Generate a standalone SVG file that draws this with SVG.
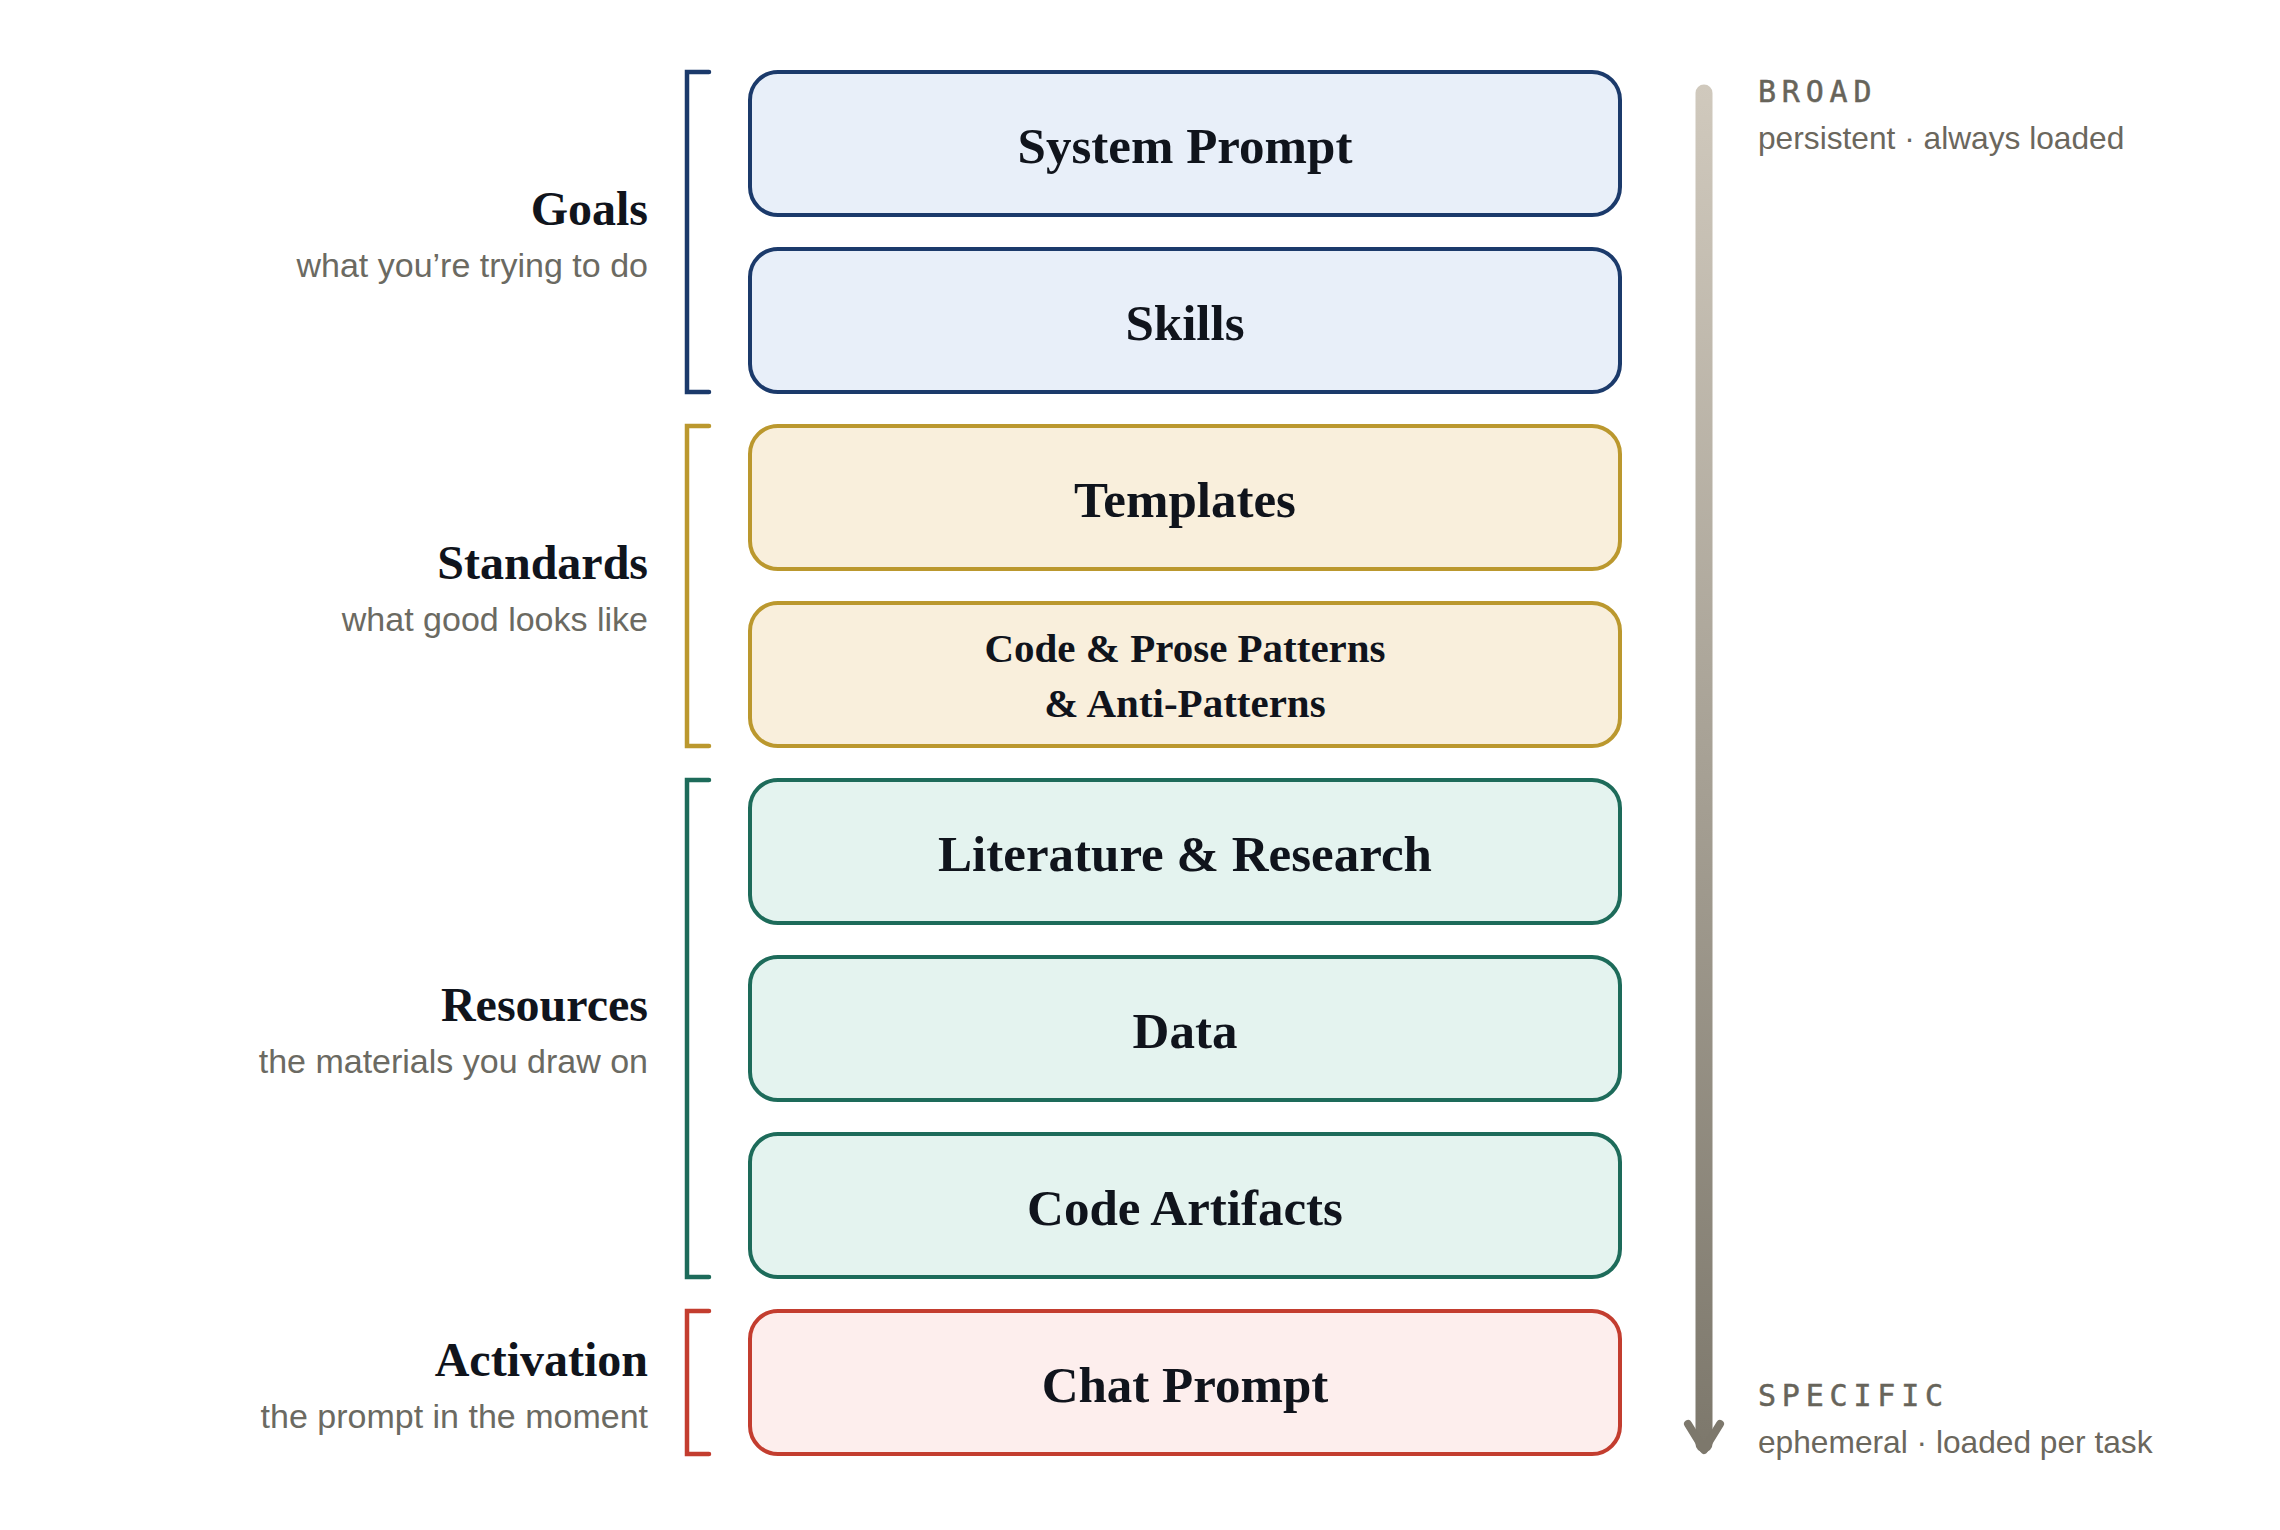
<svg xmlns="http://www.w3.org/2000/svg" width="2280" height="1530" viewBox="0 0 2280 1530">
  <defs>
    <linearGradient id="arrowGrad" x1="0" y1="85" x2="0" y2="1450" gradientUnits="userSpaceOnUse">
      <stop offset="0" stop-color="#d0c9bd"/>
      <stop offset="1" stop-color="#7d786c"/>
    </linearGradient>
    <style>
      .box { stroke-width: 4; }
      .goals .box { fill: #e8eff9; stroke: #1b3a6b; }
      .standards .box { fill: #f9efdc; stroke: #bb982e; }
      .resources .box { fill: #e4f3ef; stroke: #1d6b5a; }
      .activation .box { fill: #fdeeed; stroke: #c33d2f; }
      .label { font-family: "Liberation Serif", "DejaVu Serif", serif; font-weight: bold; font-size: 51px; fill: #10141c; text-anchor: middle; }
      .label2 { font-size: 41px; }
      .title { font-family: "Liberation Serif", "DejaVu Serif", serif; font-weight: bold; font-size: 48px; fill: #10141c; text-anchor: end; }
      .sub { font-family: "Liberation Sans", Arial, sans-serif; font-size: 34px; fill: #6b6a62; text-anchor: end; }
      .bracket { fill: none; stroke-width: 4.5; stroke-linecap: round; stroke-linejoin: miter; }
      .mono { font-family: "DejaVu Sans Mono", "Liberation Mono", monospace; font-size: 30px; letter-spacing: 5.8px; fill: #67645a; stroke: #67645a; stroke-width: 0.5px; }
      .note { font-family: "Liberation Sans", Arial, sans-serif; font-size: 31.7px; fill: #6b675d; }
    </style>
  </defs>
  <rect x="0" y="0" width="2280" height="1530" fill="#ffffff"/>

  <g id="group-labels">
    <g id="label-goals">
      <text class="title" x="648" y="225">Goals</text>
      <text class="sub" x="648" y="277">what you’re trying to do</text>
    </g>
    <g id="label-standards">
      <text class="title" x="648" y="579">Standards</text>
      <text class="sub" x="648" y="631">what good looks like</text>
    </g>
    <g id="label-resources">
      <text class="title" x="648" y="1021">Resources</text>
      <text class="sub" x="648" y="1073">the materials you draw on</text>
    </g>
    <g id="label-activation">
      <text class="title" x="648" y="1376">Activation</text>
      <text class="sub" x="648" y="1428">the prompt in the moment</text>
    </g>
  </g>

  <g id="brackets">
    <path class="bracket" stroke="#1b3a6b" d="M709 72 H687 V392 H709"/>
    <path class="bracket" stroke="#bb982e" d="M709 426 H687 V746 H709"/>
    <path class="bracket" stroke="#1d6b5a" d="M709 780 H687 V1277 H709"/>
    <path class="bracket" stroke="#c33d2f" d="M709 1311 H687 V1454 H709"/>
  </g>

  <g class="goals">
    <g id="system-prompt">
      <rect class="box" x="750" y="72" width="870" height="143" rx="28"/>
      <text class="label" x="1185" y="163">System Prompt</text>
    </g>
    <g id="skills">
      <rect class="box" x="750" y="249" width="870" height="143" rx="28"/>
      <text class="label" x="1185" y="340">Skills</text>
    </g>
  </g>
  <g class="standards">
    <g id="templates">
      <rect class="box" x="750" y="426" width="870" height="143" rx="28"/>
      <text class="label" x="1185" y="517">Templates</text>
    </g>
    <g id="patterns">
      <rect class="box" x="750" y="603" width="870" height="143" rx="28"/>
      <text class="label label2" x="1185" y="662">Code &amp; Prose Patterns</text>
      <text class="label label2" x="1185" y="717">&amp; Anti-Patterns</text>
    </g>
  </g>
  <g class="resources">
    <g id="literature">
      <rect class="box" x="750" y="780" width="870" height="143" rx="28"/>
      <text class="label" x="1185" y="871">Literature &amp; Research</text>
    </g>
    <g id="data">
      <rect class="box" x="750" y="957" width="870" height="143" rx="28"/>
      <text class="label" x="1185" y="1048">Data</text>
    </g>
    <g id="code-artifacts">
      <rect class="box" x="750" y="1134" width="870" height="143" rx="28"/>
      <text class="label" x="1185" y="1225">Code Artifacts</text>
    </g>
  </g>
  <g class="activation">
    <g id="chat-prompt">
      <rect class="box" x="750" y="1311" width="870" height="143" rx="28"/>
      <text class="label" x="1185" y="1402">Chat Prompt</text>
    </g>
  </g>

  <g id="connectors">
    <line x1="1704" y1="93" x2="1704" y2="1444" stroke="url(#arrowGrad)" stroke-width="17" stroke-linecap="round"/>
    <path d="M1688 1424 L1704 1450 L1720 1424" fill="none" stroke="#7d786c" stroke-width="8" stroke-linecap="round" stroke-linejoin="round"/>
  </g>

  <g id="scale-notes">
    <text class="mono" x="1758" y="102">BROAD</text>
    <text class="note" x="1758" y="149">persistent · always loaded</text>
    <text class="mono" x="1758" y="1406">SPECIFIC</text>
    <text class="note" x="1758" y="1453">ephemeral · loaded per task</text>
  </g>
</svg>
